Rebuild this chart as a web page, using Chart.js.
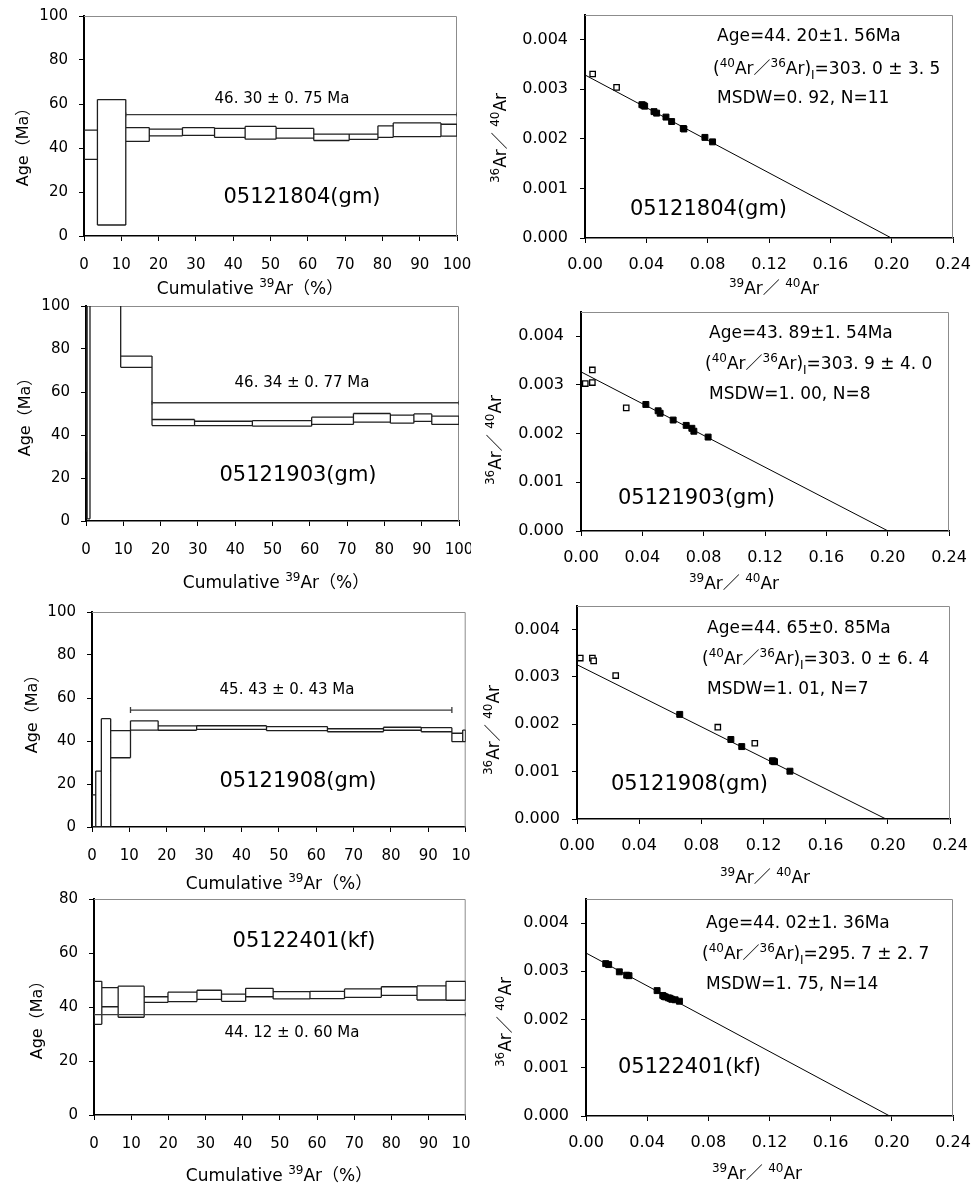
<!DOCTYPE html>
<html>
<head>
<meta charset="utf-8">
<script src="https://cdn.jsdelivr.net/npm/chart.js@4.4.1/dist/chart.umd.min.js"></script>
<style>
  body { margin: 0; background: #fff; width: 971px; height: 1190px; position: relative; overflow: hidden; }
  canvas { position: absolute; }
</style>
</head>
<body>
<script>
// ---- step-heating spectra: cumulative 39Ar (%) edges, age low / high (Ma)
const spec1Edges = [0, 3.6, 11.2, 17.5, 26.4, 35.0, 43.2, 51.5, 61.6, 71.1, 78.8, 82.9, 95.7, 100];
const spec1Low = [34.8, 5.0, 43.0, 45.5, 45.7, 44.8, 44.0, 44.5, 43.4, 43.9, 44.8, 45.2, 45.4];
const spec1High = [48.1, 62.0, 49.3, 48.6, 49.3, 48.9, 49.8, 48.9, 46.3, 46.3, 50.1, 51.4, 50.8];
const spec1Plateau = [11.2, 100];
const spec1PlateauY = 55.2;

const spec2Edges = [0, 0.3, 1.07, 9.3, 17.7, 29.1, 44.6, 60.5, 71.7, 81.6, 87.9, 92.7, 100];
const spec2Low = [32.5, 1.0, 105, 71.5, 44.4, 44.4, 44.1, 44.9, 46.0, 45.5, 46.3, 44.9];
const spec2High = [150, 150, 125, 76.7, 47.2, 46.4, 46.7, 48.3, 50.0, 49.2, 49.8, 48.8];
const spec2Plateau = [17.7, 100];
const spec2PlateauY = 55.0;

const spec3Edges = [0, 1.0, 2.5, 5.0, 10.3, 17.7, 28.0, 46.7, 63.0, 78.0, 88.1, 96.3, 99.2, 100];
const spec3Low = [0, 0, 0, 32.2, 45.1, 45.0, 45.4, 44.8, 44.3, 45.0, 44.3, 39.7, 39.7];
const spec3High = [14.9, 26.0, 50.4, 44.8, 49.4, 47.0, 47.1, 46.7, 45.7, 46.4, 46.2, 43.6, 45.1];
const spec3Plateau = [10.3, 96.3];
const spec3PlateauY = 54.4;

const spec4Edges = [0, 2.1, 6.5, 13.5, 19.9, 27.7, 34.3, 40.8, 48.2, 58.1, 67.4, 77.3, 86.9, 94.7, 100];
const spec4Low = [33.6, 40.1, 36.2, 41.7, 42.0, 42.8, 42.1, 43.8, 43.0, 43.1, 43.6, 44.3, 42.6, 42.5];
const spec4High = [49.5, 47.2, 47.7, 43.8, 45.5, 46.2, 44.8, 46.9, 45.7, 45.8, 46.7, 47.5, 47.8, 49.5];
const spec4Plateau = [0, 100];
const spec4PlateauY = 37.2;

// ---- inverse isochrons: [39Ar/40Ar, 36Ar/40Ar]
const iso1Open = [[0.0050, 0.00331], [0.0206, 0.00304]];
const iso1Filled = [[0.0371, 0.00269], [0.0380, 0.00268], [0.0389, 0.00266], [0.0450, 0.00255], [0.0467, 0.00252],
  [0.0528, 0.00244], [0.0565, 0.00235], [0.0641, 0.00221], [0.0645, 0.00220], [0.0782, 0.00203], [0.0832, 0.00194]];
const iso1Line = [[0, 0.00329], [0.1998, 0]];

const iso2Open = [[0.0028, 0.00303], [0.0074, 0.00305], [0.0074, 0.00331], [0.0295, 0.00253]];
const iso2Filled = [[0.0423, 0.00260], [0.0503, 0.00247], [0.0516, 0.00242], [0.0601, 0.00228], [0.0686, 0.00217],
  [0.0723, 0.00211], [0.0736, 0.00205], [0.0829, 0.00193]];
const iso2Line = [[0, 0.00327], [0.2003, 0]];

const iso3Open = [[0.0021, 0.00340], [0.0099, 0.00340], [0.0107, 0.00334], [0.0249, 0.00303], [0.0906, 0.00194], [0.1144, 0.00160]];
const iso3Filled = [[0.0661, 0.00221], [0.0990, 0.00168], [0.1060, 0.00153], [0.1258, 0.00123], [0.1265, 0.00122],
  [0.1271, 0.00121], [0.1370, 0.00101]];
const iso3Line = [[0, 0.00326], [0.1988, 0]];

const iso4Open = [];
const iso4Filled = [[0.0129, 0.00316], [0.0148, 0.00314], [0.0218, 0.00299], [0.0266, 0.00292], [0.0281, 0.00291],
  [0.0465, 0.00260], [0.0502, 0.00250], [0.0510, 0.00248], [0.0519, 0.00247], [0.0539, 0.00245], [0.0550, 0.00244],
  [0.0561, 0.00242], [0.0583, 0.00241], [0.0611, 0.00238]];
const iso4Line = [[0, 0.00338], [0.1986, 0]];

const FONT = '"DejaVu Sans", "Noto Sans CJK SC", sans-serif';

// box outline of every step, as one broken line
const spectrum = (edges, lo, hi, plat, platY, cap) => {
  const pts = [];
  const gap = (x) => pts.push({ x, y: null });
  lo.forEach((_, i) => {
    pts.push({ x: edges[i], y: hi[i] }, { x: edges[i + 1], y: hi[i] }); gap(edges[i + 1]);
    pts.push({ x: edges[i], y: lo[i] }, { x: edges[i + 1], y: lo[i] }); gap(edges[i + 1]);
  });
  edges.forEach((x, j) => {
    const adj = [j - 1, j].filter((k) => k >= 0 && k < lo.length);
    pts.push({ x, y: Math.min(...adj.map((k) => lo[k])) }, { x, y: Math.max(...adj.map((k) => hi[k])) });
    gap(x);
  });
  return [
    {
      data: plat.map((x) => ({ x, y: platY })), showLine: true, borderColor: '#3a3a3a', borderWidth: 1.3,
      pointStyle: 'line', rotation: 90, pointRadius: cap, pointBorderWidth: 1.3,
    },
    { data: pts, showLine: true, spanGaps: false, borderColor: '#1e1e1e', borderWidth: 1.3, pointRadius: 0 },
  ];
};

const isochron = (open, filled, line) => [
  { data: filled.map(([x, y]) => ({ x, y })), pointStyle: 'rect', pointRadius: 4.2, backgroundColor: '#000', borderColor: '#000' },
  { data: open.map(([x, y]) => ({ x, y })), pointStyle: 'rect', pointRadius: 3.8, backgroundColor: '#fff', borderColor: '#000', pointBorderWidth: 1.3 },
  { data: line.map(([x, y]) => ({ x, y })), showLine: true, pointRadius: 0, borderColor: '#000', borderWidth: 1 },
];

const parseRich = (str) => {
  const out = [];
  const re = /\^\{([^}]*)\}|_\{([^}]*)\}|([^^_]+)/g;
  let m;
  while ((m = re.exec(str))) {
    if (m[1] !== undefined) out.push([m[1], 1]);
    else if (m[2] !== undefined) out.push([m[2], -1]);
    else out.push([m[3], 0]);
  }
  return out;
};

const richText = (texts, ox, oy) => ({
  id: 'richText',
  afterDraw(chart) {
    const ctx = chart.ctx;
    texts.forEach((it) => {
      const parts = parseRich(it.t);
      const small = Math.round(it.s * 0.68);
      const fontOf = (m) => `${m ? small : it.s}px ${FONT}`;
      const widths = parts.map(([t, m]) => { ctx.font = fontOf(m); return ctx.measureText(t).width; });
      const w = widths.reduce((a, b) => a + b, 0);
      ctx.save();
      ctx.translate(it.x - ox, it.y - oy);
      if (it.r) ctx.rotate((it.r * Math.PI) / 180);
      ctx.fillStyle = '#000';
      ctx.textBaseline = 'alphabetic';
      let x = it.a === 'c' ? -w / 2 : 0;
      const base = it.s * 0.36;
      parts.forEach(([t, m], i) => {
        ctx.font = fontOf(m);
        const dy = m === 1 ? -it.s * 0.42 : m === -1 ? it.s * 0.3 : 0;
        ctx.fillText(t, x, base + dy);
        x += widths[i];
      });
      ctx.restore();
    });
  },
});

// grey top and right sides of the plot box
const frame = {
  id: 'frame',
  beforeDatasetsDraw(chart) {
    const { ctx, chartArea: a } = chart;
    ctx.save();
    ctx.strokeStyle = '#8c8c8c';
    ctx.lineWidth = 1;
    ctx.beginPath();
    ctx.moveTo(a.left, a.top + 0.5);
    ctx.lineTo(a.right - 0.5, a.top + 0.5);
    ctx.lineTo(a.right - 0.5, a.bottom);
    ctx.stroke();
    ctx.restore();
  },
};

const axis = (min, max, step, dec, fontSize, pad, fixed, isY, borderW) => ({
  type: 'linear', min, max,
  ticks: {
    stepSize: step, color: '#000', padding: pad, maxRotation: 0, autoSkip: false,
    font: { family: FONT, size: fontSize },
    callback: (v) => v.toFixed(dec),
  },
  grid: { drawOnChartArea: false, drawTicks: true, tickLength: 5, color: '#000', lineWidth: 1 },
  border: { color: '#000', width: borderW },
  afterBuildTicks: (s) => { s.ticks = s.ticks.filter((t) => t.value <= (isY && max < 1 ? 0.00401 : max)); },
  afterFit: (s) => {
    if (isY) s.width = fixed; else s.height = fixed;
    s.paddingLeft = 0; s.paddingRight = 0; s.paddingTop = 0; s.paddingBottom = 0;
  },
});

const panel = (p) => {
  const c = document.createElement('canvas');
  c.width = p.w; c.height = p.h;
  c.style.left = p.left + 'px'; c.style.top = p.top + 'px';
  c.style.width = p.w + 'px'; c.style.height = p.h + 'px';
  document.body.appendChild(c);
  const iso = p.kind === 'iso';
  new Chart(c, {
    type: 'scatter',
    data: { datasets: p.datasets },
    options: {
      responsive: false, animation: false, devicePixelRatio: 1, events: [],
      layout: { padding: { left: 0, bottom: 0, top: p.area[1] - p.top, right: p.left + p.w - p.area[2] } },
      plugins: { legend: { display: false }, tooltip: { enabled: false } },
      scales: {
        x: iso ? axis(0, 0.24, 0.04, 2, 16, 12, p.top + p.h - p.area[3], false, 1.5)
               : axis(0, 100, 10, 0, 15, 15, p.top + p.h - p.area[3], false, 1.5),
        y: iso ? axis(0, 0.0045, 0.001, 3, 16, 12, p.area[0] - p.left, true, 2)
               : axis(0, p.ymax, 20, 0, 15, 11, p.area[0] - p.left, true, 2),
      },
    },
    plugins: [frame, richText(p.texts, p.left, p.top)],
  });
};

const ageTitle = (x, y) => ({ t: 'Age（Ma）', x, y, s: 16, a: 'c', r: -90 });
const cumTitle = (x, y) => ({ t: 'Cumulative ^{39}Ar（%）', x, y, s: 17, a: 'c' });
const isoY = (x, y) => ({ t: '^{36}Ar／ ^{40}Ar', x, y, s: 17, a: 'c', r: -90 });
const isoX = (x, y) => ({ t: '^{39}Ar／ ^{40}Ar', x, y, s: 17, a: 'c' });

const L = { left: 0, w: 471 };
const R = { left: 475, w: 496 };

[
  { ...L, top: 0, h: 295, kind: 'spec', ymax: 100, area: [84, 16, 457, 236],
    datasets: spectrum(spec1Edges, spec1Low, spec1High, spec1Plateau, spec1PlateauY, 2),
    texts: [ageTitle(22, 143), cumTitle(250, 288),
      { t: '46. 30 ± 0. 75 Ma', x: 282, y: 98, s: 15, a: 'c' },
      { t: '05121804(gm)', x: 302, y: 195, s: 21, a: 'c' }] },
  { ...R, top: 0, h: 295, kind: 'iso', area: [585, 15, 953, 238],
    datasets: isochron(iso1Open, iso1Filled, iso1Line),
    texts: [isoY(500, 138), isoX(774, 288),
      { t: 'Age=44. 20±1. 56Ma', x: 717, y: 35, s: 17 },
      { t: '(^{40}Ar／^{36}Ar)_{I}=303. 0 ± 3. 5', x: 713, y: 68, s: 17 },
      { t: 'MSDW=0. 92, N=11', x: 717, y: 97, s: 17 },
      { t: '05121804(gm)', x: 630, y: 207, s: 21 }] },
  { ...L, top: 295, h: 300, kind: 'spec', ymax: 100, area: [86, 306, 459, 521],
    datasets: spectrum(spec2Edges, spec2Low, spec2High, spec2Plateau, spec2PlateauY, 2),
    texts: [ageTitle(24, 413), cumTitle(276, 582),
      { t: '46. 34 ± 0. 77 Ma', x: 302, y: 382, s: 15, a: 'c' },
      { t: '05121903(gm)', x: 298, y: 473, s: 21, a: 'c' }] },
  { ...R, top: 295, h: 300, kind: 'iso', area: [581, 312, 949, 531],
    datasets: isochron(iso2Open, iso2Filled, iso2Line),
    texts: [isoY(495, 440), isoX(734, 583),
      { t: 'Age=43. 89±1. 54Ma', x: 709, y: 332, s: 17 },
      { t: '(^{40}Ar／^{36}Ar)_{I}=303. 9 ± 4. 0', x: 705, y: 363, s: 17 },
      { t: 'MSDW=1. 00, N=8', x: 709, y: 393, s: 17 },
      { t: '05121903(gm)', x: 618, y: 496, s: 21 }] },
  { ...L, top: 595, h: 295, kind: 'spec', ymax: 100, area: [92, 612, 466, 827],
    datasets: spectrum(spec3Edges, spec3Low, spec3High, spec3Plateau, spec3PlateauY, 3),
    texts: [ageTitle(31, 710), cumTitle(279, 883),
      { t: '45. 43 ± 0. 43 Ma', x: 287, y: 689, s: 15, a: 'c' },
      { t: '05121908(gm)', x: 298, y: 779, s: 21, a: 'c' }] },
  { ...R, top: 595, h: 295, kind: 'iso', area: [577, 606, 950, 819],
    datasets: isochron(iso3Open, iso3Filled, iso3Line),
    texts: [isoY(493, 730), isoX(765, 877),
      { t: 'Age=44. 65±0. 85Ma', x: 707, y: 627, s: 17 },
      { t: '(^{40}Ar／^{36}Ar)_{I}=303. 0 ± 6. 4', x: 702, y: 658, s: 17 },
      { t: 'MSDW=1. 01, N=7', x: 707, y: 688, s: 17 },
      { t: '05121908(gm)', x: 611, y: 782, s: 21 }] },
  { ...L, top: 890, h: 300, kind: 'spec', ymax: 80, area: [94, 899, 467, 1115],
    datasets: spectrum(spec4Edges, spec4Low, spec4High, spec4Plateau, spec4PlateauY, 2),
    texts: [ageTitle(36, 1016), cumTitle(279, 1175),
      { t: '44. 12 ± 0. 60 Ma', x: 292, y: 1032, s: 15, a: 'c' },
      { t: '05122401(kf)', x: 304, y: 939, s: 21, a: 'c' }] },
  { ...R, top: 890, h: 300, kind: 'iso', area: [586, 899, 953, 1116],
    datasets: isochron(iso4Open, iso4Filled, iso4Line),
    texts: [isoY(505, 1022), isoX(757, 1173),
      { t: 'Age=44. 02±1. 36Ma', x: 706, y: 922, s: 17 },
      { t: '(^{40}Ar／^{36}Ar)_{I}=295. 7 ± 2. 7', x: 702, y: 953, s: 17 },
      { t: 'MSDW=1. 75, N=14', x: 706, y: 983, s: 17 },
      { t: '05122401(kf)', x: 618, y: 1065, s: 21 }] },
].forEach(panel);
</script>
</body>
</html>
